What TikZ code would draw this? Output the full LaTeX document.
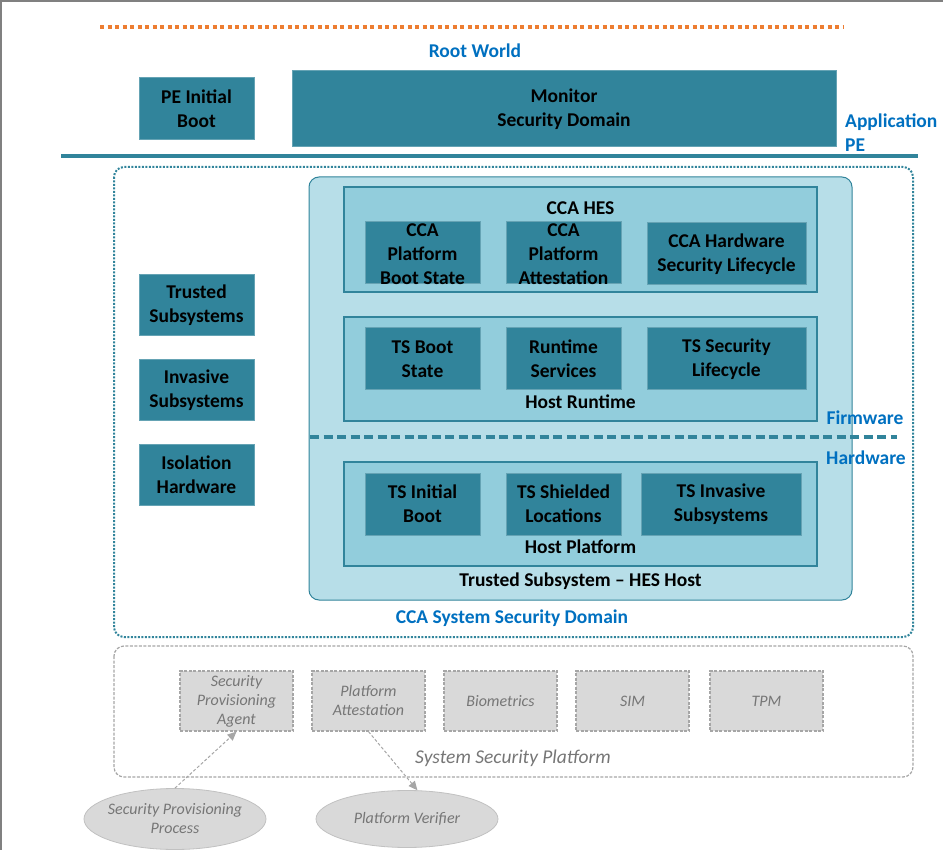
\documentclass[tikz,border=0pt]{standalone}
\usepackage{fontspec}
\setmainfont{Carlito}
\usepackage{xcolor}
\definecolor{ccaTeal}{RGB}{49,132,155}
\definecolor{ccaLight}{RGB}{183,222,232}
\definecolor{ccaMid}{RGB}{146,205,220}
\definecolor{ccaBlue}{RGB}{0,112,192}
\definecolor{ccaOrange}{RGB}{237,125,49}
\definecolor{sspFill}{RGB}{217,217,217}
\definecolor{sspLine}{RGB}{166,166,166}
\definecolor{sspText}{RGB}{118,118,118}
\usetikzlibrary{arrows.meta,shapes.geometric}

\tikzset{
  boxtext/.style={font=\fontsize{19.5}{24}\selectfont\bfseries, align=center,
                  text=black, inner sep=0pt},
  tealbox/.style={rectangle, draw=ccaTeal!75!white, line width=1pt,
                  fill=ccaTeal, boxtext},
  midbox/.style={rectangle, draw=ccaTeal, line width=1.6pt, fill=ccaMid},
  bluelabel/.style={font=\fontsize{19.5}{24}\selectfont\bfseries,
                    text=ccaBlue, inner sep=0pt, align=left},
  sspbox/.style={rectangle, draw=sspLine, line width=1.2pt,
                 dash pattern=on 3pt off 1.5pt, fill=sspFill,
                 minimum width=113pt, minimum height=60pt,
                 font=\fontsize{16}{19}\selectfont\itshape, text=sspText,
                 align=center, inner sep=0pt},
  sspell/.style={ellipse, draw=sspLine!70!white, line width=0.8pt,
                 fill=sspFill, minimum width=182pt, minimum height=58pt,
                 font=\fontsize{16}{19}\selectfont\itshape, text=sspText,
                 align=center, inner sep=0pt},
  sspflow/.style={draw=sspLine, line width=1pt, dash pattern=on 3pt off 2pt,
                  -{Triangle[length=9pt,width=8pt]}}
}

\begin{document}
\begin{tikzpicture}[x=1pt,y=-1pt]
  \useasboundingbox (0,0) rectangle (943,850);
  \draw[gray, line width=1.5pt] (0.75,850) -- (0.75,1) -- (943,1);

  % root world
  \draw[ccaOrange, line width=4pt, dash pattern=on 4pt off 3.5pt] (100,27) -- (843,27);
  \node[bluelabel] (rw) at (475,51) {Root World};
  \node[tealbox, minimum width=115pt, minimum height=62pt] (pe) at (196.5,109) {PE Initial\\Boot};
  \node[tealbox, minimum width=544pt, minimum height=76pt] (mon) at (564,109) {Monitor\\Security Domain};
  \node[bluelabel, anchor=north west] (ape) at (845,114) {Application\\PE};
  \draw[ccaTeal, line width=4pt] (61,156) -- (918,156);

  % CCA system security domain
  \draw[ccaTeal, line width=2pt, dash pattern=on 2pt off 1.5pt, rounded corners=10pt]
    (114,167) rectangle (913,637);
  \node[tealbox, minimum width=115pt, minimum height=61pt] (ts) at (196.5,305) {Trusted\\Subsystems};
  \node[tealbox, minimum width=115pt, minimum height=61pt] (is) at (196.5,390) {Invasive\\Subsystems};
  \node[tealbox, minimum width=115pt, minimum height=61pt] (ih) at (196.5,475) {Isolation\\Hardware};

  \node[rectangle, rounded corners=10pt, draw=ccaTeal, line width=1pt, fill=ccaLight,
        minimum width=543pt, minimum height=423pt] (host) at (580.5,388.5) {};
  \draw[ccaTeal, line width=3.5pt, dash pattern=on 9pt off 4.5pt] (310,437) -- (897,437);
  \node[bluelabel] (fw) at (865,418) {Firmware};
  \node[bluelabel] (hw) at (866,458) {Hardware};

  % CCA HES
  \node[midbox, minimum width=473pt, minimum height=105pt] (hes) at (580.5,239.5) {};
  \node[boxtext] (hesl) at (580.5,208) {CCA HES};
  \node[tealbox, minimum width=115pt, minimum height=62pt,
        label={[boxtext, yshift=-1.5pt]center:CCA\\Platform\\Boot State}] (cpbs) at (422.5,253) {};
  \node[tealbox, minimum width=115pt, minimum height=62pt,
        label={[boxtext, yshift=-1.5pt]center:CCA\\Platform\\Attestation}] (cpa) at (563.5,253) {};
  \node[tealbox, minimum width=159pt, minimum height=62pt] (chsl) at (726.5,254) {CCA Hardware\\Security Lifecycle};

  % host runtime
  \node[midbox, minimum width=473pt, minimum height=104pt] (hr) at (580.5,369) {};
  \node[tealbox, minimum width=115pt, minimum height=62pt] (tsbs) at (422.5,359) {TS Boot\\State};
  \node[tealbox, minimum width=115pt, minimum height=62pt] (rs) at (563.5,359) {Runtime\\Services};
  \node[tealbox, minimum width=159pt, minimum height=62pt] (tssl) at (726.5,359) {TS Security\\Lifecycle};
  \node[boxtext] (hrl) at (580.5,402) {Host Runtime};

  % host platform
  \node[midbox, minimum width=473pt, minimum height=104pt] (hp) at (580.5,514) {};
  \node[tealbox, minimum width=115pt, minimum height=62pt] (tsib) at (422.5,504) {TS Initial\\Boot};
  \node[tealbox, minimum width=115pt, minimum height=62pt] (tssh) at (563.5,504) {TS Shielded\\Locations};
  \node[tealbox, minimum width=160pt, minimum height=62pt] (tsis) at (721,504) {TS Invasive\\Subsystems};
  \node[boxtext] (hpl) at (580.5,547) {Host Platform};
  \node[boxtext] (hostl) at (580.5,581) {Trusted Subsystem -- HES Host};
  \node[bluelabel] (dom) at (512,618) {CCA System Security Domain};

  % system security platform
  \draw[sspLine, line width=1.2pt, dash pattern=on 3pt off 1.5pt, rounded corners=10pt]
    (114,646) rectangle (913,777);
  \node[sspbox] (spa) at (236.5,701) {Security\\Provisioning\\Agent};
  \node[sspbox] (pa) at (368.5,701) {Platform\\Attestation};
  \node[sspbox] (bio) at (500.5,701) {Biometrics};
  \node[sspbox] (sim) at (632.5,701) {SIM};
  \node[sspbox] (tpm) at (766.5,701) {TPM};
  \node[font=\fontsize{19.5}{22}\selectfont\itshape, text=sspText, inner sep=0pt] (sspl) at (513,758) {System Security Platform};

  \node[sspell, minimum height=61pt, inner xsep=-6pt, inner ysep=-2pt] (sppr) at (175,819) {Security Provisioning\\Process};
  \node[sspell, minimum height=57pt] (pv) at (407,819) {Platform Verifier};

  \draw[sspflow] (sppr.north) -- (spa.south);
  \draw[sspflow] (pa.south) -- (pv.70);
\end{tikzpicture}
\end{document}
